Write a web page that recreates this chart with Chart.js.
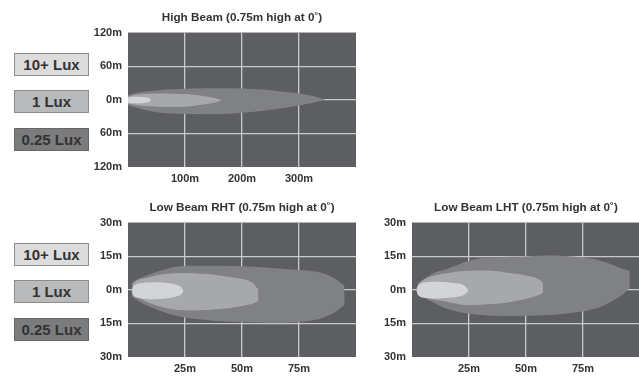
<!DOCTYPE html>
<html>
<head>
<meta charset="utf-8">
<script src="https://cdn.jsdelivr.net/npm/chart.js@4.4.1/dist/chart.umd.min.js"></script>
<style>
  html, body { margin: 0; padding: 0; background: #fff; overflow: hidden; }
  body { width: 639px; height: 376px; position: relative; }
  .chart { position: absolute; }
  .key {
    position: absolute; left: 14px; width: 75px; height: 23px;
    box-sizing: border-box; border: 1px solid #8c8c8c;
    font: bold 15px "Liberation Sans Narrow", "Liberation Sans", sans-serif;
    color: #333; text-align: center; line-height: 21px;
  }
</style>
</head>
<body>
<div class="key" style="top:53px;background:#dcdcdd">10+ Lux</div>
<div class="key" style="top:90px;background:#b9babc">1 Lux</div>
<div class="key" style="top:128px;background:#7b7c7e;border-color:#666">0.25 Lux</div>
<div class="key" style="top:243px;background:#dcdcdd">10+ Lux</div>
<div class="key" style="top:280px;background:#b9babc">1 Lux</div>
<div class="key" style="top:318px;background:#7b7c7e;border-color:#666">0.25 Lux</div>

<canvas id="highChart" class="chart" width="266" height="190" style="left:90px;top:0px"></canvas>
<canvas id="rhtChart" class="chart" width="266" height="190" style="left:90px;top:190px"></canvas>
<canvas id="lhtChart" class="chart" width="266" height="190" style="left:374px;top:190px"></canvas>

<script>
// beam outlines (x = distance, y = spread)
// High beam
const high10X = [0, 5, 15, 25, 33, 38, 40];
const high10Up = [4, 5, 5.3, 5, 4, 2.5, 0];
const high10Low = [-5.5, -6.2, -6.5, -6.3, -5, -3, -0.5];

const high1X = [0, 24, 53, 100, 129, 153, 164];
const high1Up = [6, 10.1, 11.3, 10.1, 7.1, 3, -0.5];
const high1Low = [-7, -10.7, -12.4, -12.4, -8.9, -4.7, -0.7];

const high025X = [0, 18, 53, 112, 170, 229, 287, 322, 346];
const high025Up = [8, 13, 17.2, 20.1, 20.7, 19, 13, 7.1, 0];
const high025Low = [-10, -15, -22.5, -25.5, -25.5, -20.7, -12.4, -5.9, -0.5];

// Low beam RHT
const rht10X = [1.6, 2.5, 5, 10, 15, 20, 23, 24.3];
const rht10Up = [-0.5, 1.8, 2.8, 3.3, 3.2, 2.6, 1.5, -0.3];
const rht10Low = [-0.5, -2.8, -3.8, -4.2, -4.0, -3.3, -2.3, -0.8];

const rht1X = [2, 4.5, 8.9, 13.3, 22, 35, 42.5, 50, 54.3, 56.4, 57.2];
const rht1Up = [2.5, 4.5, 5.5, 6.6, 7.5, 7.0, 6.0, 4.8, 3.3, 1.0, 0];
const rht1Low = [-1.5, -3.4, -5.7, -7.2, -9.0, -9.0, -8.4, -7.2, -6.3, -5.5, -4.9];

const rht025X = [1.5, 3.8, 6.8, 14, 21, 28, 43, 57, 72, 83, 90, 95];
const rht025Up = [3, 4.5, 5.8, 8.5, 10.3, 10.7, 10.7, 10.2, 9.0, 8.0, 5.5, 1.8];
const rht025Low = [-3, -4.5, -6.4, -9.4, -11.6, -12.8, -14.2, -14.6, -14.6, -13.3, -10.5, -6.8];

// Low beam LHT
const lht10X = [1.9, 2.8, 5, 10, 15, 20, 23, 24.6];
const lht10Up = [0, 2.2, 3.2, 3.6, 3.4, 2.8, 1.8, 0];
const lht10Low = [-0.3, -2.6, -3.6, -3.9, -3.7, -3.1, -2.2, -0.6];

const lht1X = [2.6, 5.6, 12.9, 20.2, 24.6, 34.8, 42.1, 46.5, 49.4, 53.8, 56.7, 57.5];
const lht1Up = [1.5, 4.8, 7.0, 8.2, 8.5, 8.5, 7.6, 7.0, 6.5, 5.5, 4.0, 2.5];
const lht1Low = [-1.2, -3.4, -4.9, -6.4, -6.9, -6.4, -5.7, -4.8, -4.2, -3, -1.9, -1.2];

const lht025X = [2.5, 4, 10, 14, 21, 28, 36, 50, 65, 80, 87, 92, 95.5];
const lht025Up = [3, 4, 7.7, 8.8, 11.5, 13.7, 14.5, 14.9, 15.2, 13.7, 11.5, 9.5, 8.5];
const lht025Low = [-2.5, -3, -6, -8, -10, -11, -11.6, -11.6, -10.9, -8.6, -5.5, -2.5, 1];

// axes
const highXTicks = [100, 200, 300];
const lowXTicks = [25, 50, 75];

const fontFamily = '"Liberation Sans Narrow", "Liberation Sans", sans-serif';
const zoneColors = ['#d3d4d6', '#a7a8aa', '#808184'];

// dark plot background
const plotBg = {
  id: 'plotBg',
  beforeDraw(chart) {
    const a = chart.chartArea;
    const ctx = chart.ctx;
    ctx.save();
    ctx.fillStyle = '#5d5e61';
    ctx.fillRect(a.left, a.top, a.right - a.left, a.bottom - a.top);
    ctx.restore();
  }
};

function pts(xs, ys) {
  return xs.map((x, i) => ({ x: x, y: ys[i] }));
}

// each zone = upper edge + lower edge filled back to the upper one
function zone(xs, up, low, color) {
  return [
    { data: pts(xs, up), fill: false, borderColor: 'transparent', borderWidth: 0, pointRadius: 0, tension: 0.3 },
    { data: pts(xs, low), fill: '-1', backgroundColor: color, borderColor: 'transparent', borderWidth: 0, pointRadius: 0, tension: 0.3 }
  ];
}

function makeChart(id, title, xMax, xTicks, yMax, zones) {
  const ctx = document.getElementById(id).getContext('2d');
  const datasets = [];
  zones.forEach((z, i) => datasets.push(...zone(z[0], z[1], z[2], zoneColors[i])));
  return new Chart(ctx, {
    type: 'line',
    data: { datasets: datasets },
    options: {
      responsive: false,
      animation: false,
      events: [],
      layout: { padding: 0 },
      plugins: {
        legend: { display: false },
        tooltip: { enabled: false },
        title: {
          display: true,
          text: title,
          fullSize: false,
          color: '#333',
          font: { family: fontFamily, size: 11.7, weight: 'bold' },
          padding: { top: 11, bottom: 7.5 }
        }
      },
      scales: {
        x: {
          type: 'linear',
          min: 0,
          max: xMax,
          z: 1,
          afterBuildTicks: (axis) => { axis.ticks = xTicks.map(v => ({ value: v })); },
          afterFit: (axis) => { axis.height = 23; },
          border: { display: false },
          grid: { color: '#c8c9cb', lineWidth: 1.3, drawTicks: false },
          ticks: {
            padding: 5,
            color: '#333',
            font: { family: fontFamily, size: 11, weight: 'bold' },
            callback: (v) => v + 'm'
          }
        },
        y: {
          min: -yMax,
          max: yMax,
          z: 1,
          afterFit: (axis) => { axis.width = 38; },
          border: { display: false },
          grid: {
            lineWidth: 1.3,
            drawTicks: false,
            color: (c) => Math.abs(c.tick.value) === yMax ? 'rgba(0,0,0,0)' : '#c8c9cb'
          },
          ticks: {
            stepSize: yMax / 2,
            padding: 6,
            color: '#333',
            font: { family: fontFamily, size: 11, weight: 'bold' },
            callback: (v) => Math.abs(v) + 'm'
          }
        }
      }
    },
    plugins: [plotBg]
  });
}

makeChart('highChart', 'High Beam (0.75m high at 0\u02da)', 400, highXTicks, 120, [
  [high10X, high10Up, high10Low],
  [high1X, high1Up, high1Low],
  [high025X, high025Up, high025Low]
]);

makeChart('rhtChart', 'Low Beam RHT (0.75m high at 0\u02da)', 100, lowXTicks, 30, [
  [rht10X, rht10Up, rht10Low],
  [rht1X, rht1Up, rht1Low],
  [rht025X, rht025Up, rht025Low]
]);

makeChart('lhtChart', 'Low Beam LHT (0.75m high at 0\u02da)', 100, lowXTicks, 30, [
  [lht10X, lht10Up, lht10Low],
  [lht1X, lht1Up, lht1Low],
  [lht025X, lht025Up, lht025Low]
]);
</script>
</body>
</html>
